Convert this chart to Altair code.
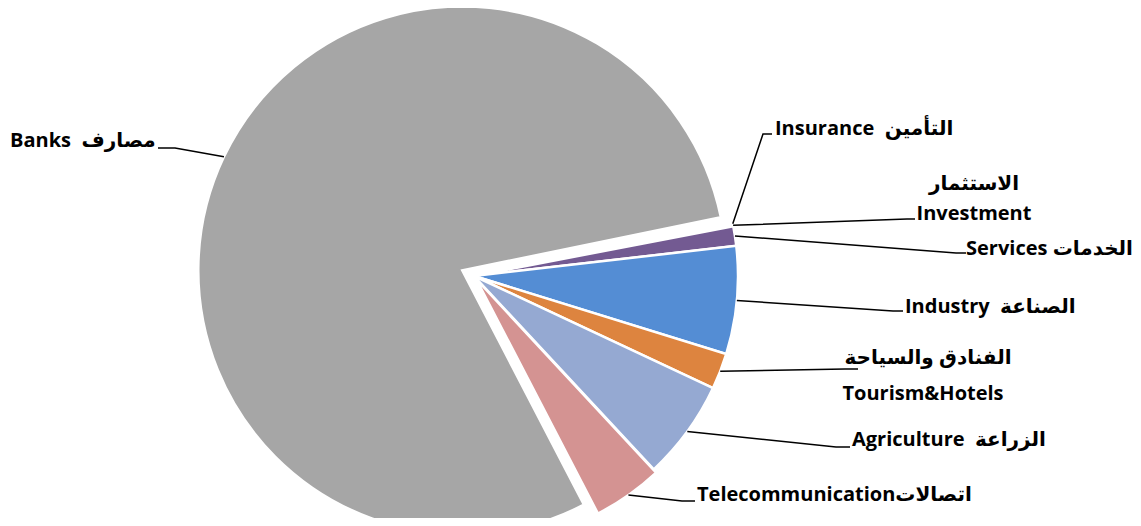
import math
import altair as alt
import pandas as pd

NB = "\u00a0"

# ---------------- data ----------------
categories = ["Insurance", "Investment", "Services", "Industry",
              "Tourism&Hotels", "Agriculture", "Telecommunication", "Banks"]
values = [0.1, 0.1, 1.2, 6.6, 2.2, 6.1, 4.3, 79.4]

label_texts = {
    "Banks": ["Banks" + NB * 2 + "مصارف"],
    "Insurance": ["Insurance" + NB * 2 + "التأمين"],
    "Investment": ["الاستثمار", "Investment"],
    "Services": ["Services" + NB + "الخدمات"],
    "Industry": ["Industry" + NB * 2 + "الصناعة"],
    "Tourism&Hotels": ["الفنادق والسياحة", "Tourism&Hotels"],
    "Agriculture": ["Agriculture" + NB * 2 + "الزراعة"],
    "Telecommunication": ["Telecommunicationاتصالات"],
}

# ---------------- style / layout ----------------
colors = ["#B5634C", "#9BBB59", "#735A92", "#548DD4",
          "#DD843F", "#95A9D2", "#D49392", "#A6A6A6"]
M = 8                      # page margin
CX, CY = 474 - M, 276 - M  # pie centre in plot coords
R = 264
START_DEG = 78.4
explode = {"Banks": 13, "Telecommunication": 4}

# leader elbow / end points and label anchors (page coords)
leader_pts = {
    "Banks": [(175, 148), (158, 148)],
    "Insurance": [(763, 134), (772, 134)],
    "Investment": [(907, 219), (915, 219)],
    "Services": [(956, 253), (966, 253)],
    "Industry": [(893, 311), (903, 311)],
    "Tourism&Hotels": [(845, 369), (858, 369)],
    "Agriculture": [(836, 447), (850, 447)],
    "Telecommunication": [(682, 501), (695, 501)],
}
label_pos = {  # (x, baseline y, align)
    "Banks": [(10, 147, "left")],
    "Insurance": [(775, 135, "left")],
    "Investment": [(974, 190, "center"), (974, 220, "center")],
    "Services": [(966, 255, "left")],
    "Industry": [(905, 313, "left")],
    "Tourism&Hotels": [(928, 364, "center"), (923, 400, "center")],
    "Agriculture": [(852, 446, "left")],
    "Telecommunication": [(697, 501, "left")],
}

# ---------------- derived tables ----------------
total = sum(values)
rows = []
cum = 0.0
for i, (c, v) in enumerate(zip(categories, values)):
    s, e = cum, cum + v
    cum = e
    mid = math.radians(START_DEG) + (s + e) / 2 / total * 2 * math.pi
    ex = explode.get(c, 0)
    rows.append(dict(category=c, value=v, start=s, end=e, order=i,
                     cx=CX + ex * math.sin(mid), cy=CY - ex * math.cos(mid),
                     mid=mid))
pie_df = pd.DataFrame(rows)

lines = []
texts = []
for r in rows:
    c = r["category"]
    ex_x = r["cx"] + R * math.sin(r["mid"])
    ex_y = r["cy"] - R * math.cos(r["mid"])
    pts = [(ex_x, ex_y)] + [(x - M, y - M) for x, y in leader_pts[c]]
    for k, (x, y) in enumerate(pts):
        lines.append(dict(category=c, seq=k, x=x, y=y))
    for t, (x, y, a) in zip(label_texts[c], label_pos[c]):
        texts.append(dict(text=t, x=x - M, y=y - M, align=a))
line_df = pd.DataFrame(lines)
text_df = pd.DataFrame(texts)

a0 = math.radians(START_DEG)
pie = alt.Chart(pie_df).mark_arc(outerRadius=R, stroke="white", strokeWidth=2.5).encode(
    theta=alt.Theta("start:Q", scale=alt.Scale(domain=[0, total], range=[a0, a0 + 2 * math.pi])),
    theta2="end:Q",
    x=alt.X("cx:Q", scale=None),
    y=alt.Y("cy:Q", scale=None),
    color=alt.Color("category:N", scale=alt.Scale(domain=categories, range=colors), legend=None),
    order="order:Q",
)

leaders = alt.Chart(line_df).mark_line(color="black", strokeWidth=1.5).encode(
    x=alt.X("x:Q", scale=None),
    y=alt.Y("y:Q", scale=None),
    detail="category:N",
    order="seq:Q",
)

font = "Open Sans, DejaVu Sans, sans-serif"
text_left = alt.Chart(text_df).transform_filter(alt.datum.align == "left").mark_text(
    align="left", baseline="alphabetic", font=font, fontWeight="bold", fontSize=20, color="black"
).encode(x=alt.X("x:Q", scale=None), y=alt.Y("y:Q", scale=None), text="text:N")

text_center = alt.Chart(text_df).transform_filter(alt.datum.align == "center").mark_text(
    align="center", baseline="alphabetic", font=font, fontWeight="bold", fontSize=20, color="black"
).encode(x=alt.X("x:Q", scale=None), y=alt.Y("y:Q", scale=None), text="text:N")

chart = alt.layer(pie, leaders, text_left, text_center).properties(
    width=1125, height=510, autosize="none", padding=0, background="white"
).configure_view(stroke=None)

chart.save("out.html", embed_options={"renderer": "svg", "actions": False})
